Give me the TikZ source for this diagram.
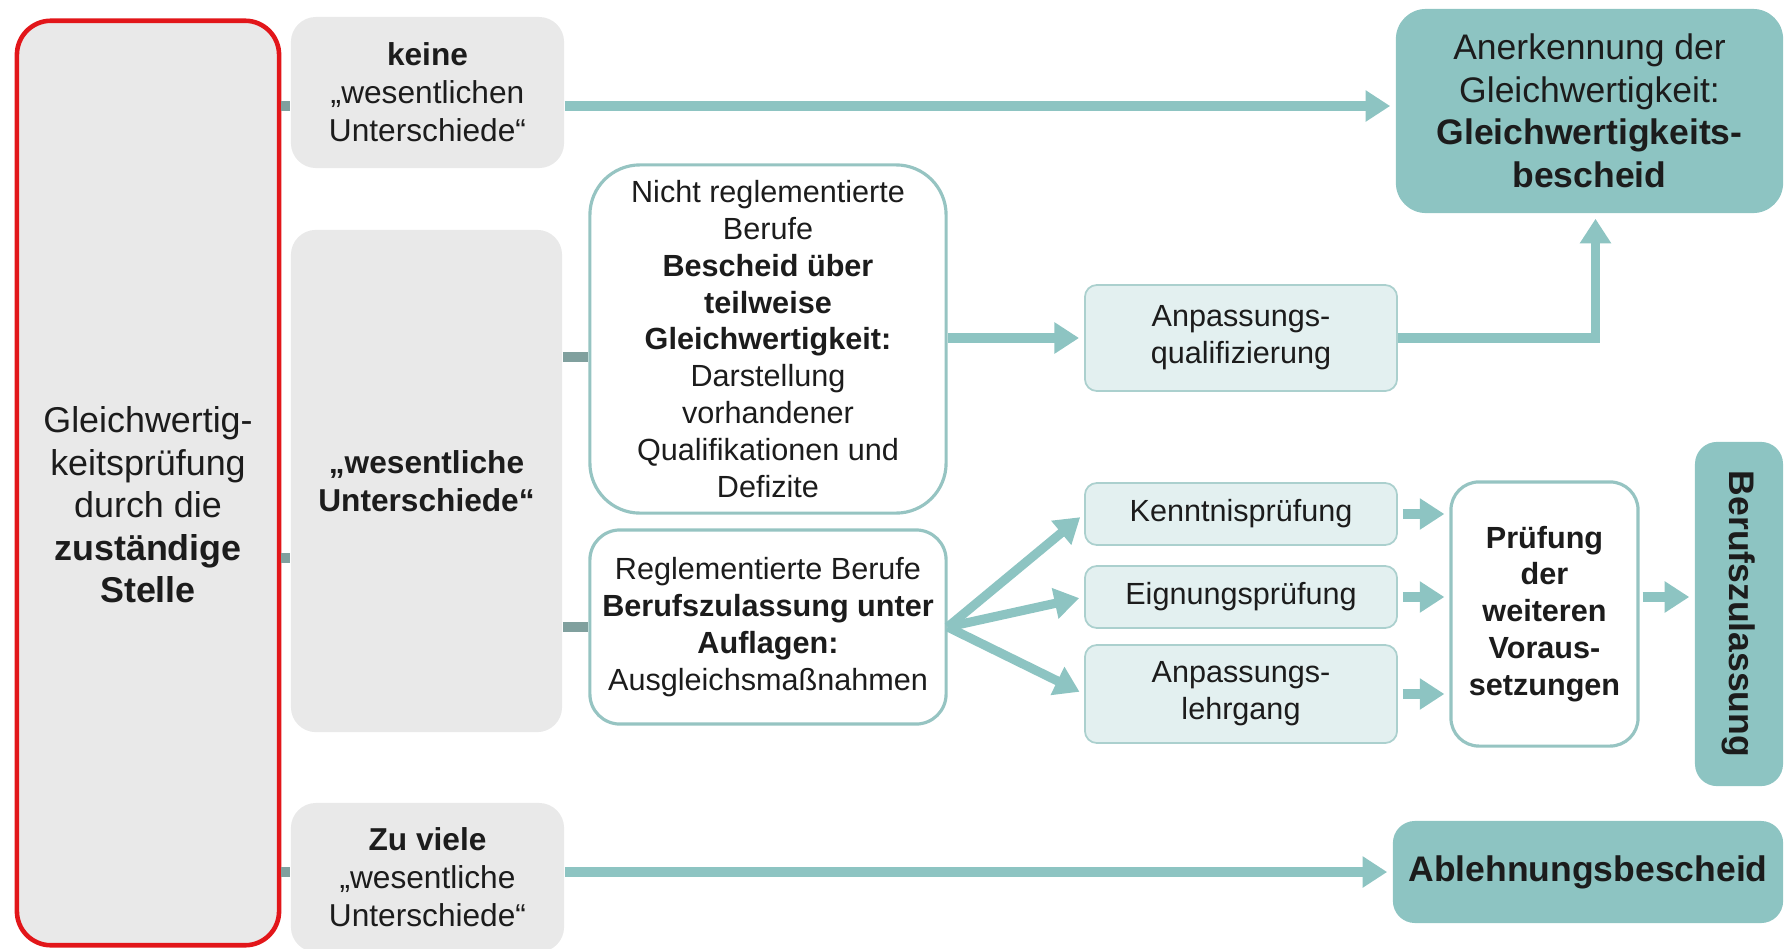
\documentclass[tikz,border=0pt]{standalone}
\usepackage{fontspec}
\setmainfont{Liberation Sans}
\usetikzlibrary{arrows.meta,positioning}
\definecolor{gsred}{RGB}{226,22,26}
\definecolor{gsgray}{RGB}{233,233,233}
\definecolor{gsteal}{RGB}{141,196,194}
\definecolor{gslight}{RGB}{227,240,240}
\definecolor{gsrim}{RGB}{150,196,194}
\definecolor{gsstub}{RGB}{128,160,158}
\definecolor{gstext}{RGB}{28,28,28}
\tikzset{
  base/.style={align=center, text=gstext, inner sep=0pt},
  greybox/.style={base, fill=gsgray, rounded corners=0.25cm, font=\fontsize{9}{10.8}\selectfont},
  whitebox/.style={base, fill=white, draw=gsrim, line width=0.9pt, font=\fontsize{8.7}{10.5}\selectfont},
  lightbox/.style={base, fill=gslight, draw=gsrim!80, line width=0.5pt, rounded corners=0.12cm,
    minimum width=3.12cm, font=\fontsize{8.7}{10.5}\selectfont},
  resultbox/.style={base, fill=gsteal, rounded corners=0.3cm, font=\fontsize{10.1}{12.1}\selectfont},
  flow/.style={draw=gsteal, line width=2.6pt, -{Triangle[length=7pt,width=8.5pt]}, shorten >=0.05cm},
  stub/.style={draw=gsstub, line width=2.7pt},
}
\begin{document}
\begin{tikzpicture}[x=0.01cm, y=-0.01cm]
\useasboundingbox (0,0) rectangle (1787,948);
% left column
\node[base, draw=gsred, fill=gsgray, line width=1.3pt, rounded corners=0.34cm,
  minimum width=2.62cm, minimum height=9.24cm] (pruef) at (148,483) {};
\node[base, font=\fontsize{10.2}{12.1}\selectfont] (pruefText) at (148,505)
  {Gleichwertig-\\keitsprüfung\\durch die\\\textbf{zuständige}\\\textbf{Stelle}};
% grey boxes
\node[greybox, minimum width=2.73cm, minimum height=1.51cm] (keine) at (427.5,92.5)
  {\textbf{keine}\\„wesentlichen\\Unterschiede“};
\node[greybox, minimum width=2.71cm, minimum height=5.02cm] (wes) at (426.5,481)
  {\textbf{„wesentliche}\\\textbf{Unterschiede“}};
\node[greybox, minimum width=2.73cm, minimum height=1.49cm] (viele) at (427.5,877.5)
  {\textbf{Zu viele}\\„wesentliche\\Unterschiede“};
% middle column
\node[whitebox, rounded corners=0.5cm, minimum width=3.56cm, minimum height=3.48cm] (nicht) at (768,339)
  {Nicht reglementierte\\Berufe\\\textbf{Bescheid über}\\\textbf{teilweise}\\\textbf{Gleichwertigkeit:}\\Darstellung\\vorhandener\\Qualifikationen und\\Defizite};
\node[whitebox, rounded corners=0.3cm, minimum width=3.56cm, minimum height=1.94cm] (regl) at (768,627)
  {Reglementierte Berufe\\\textbf{Berufszulassung unter}\\\textbf{Auflagen:}\\Ausgleichsmaßnahmen};
% measures
\node[lightbox, minimum height=1.06cm] (anpq) at (1241,338) {Anpassungs-\\qualifizierung};
\node[lightbox, minimum height=0.62cm] (kennt) at (1241,514) {Kenntnisprüfung};
\node[lightbox, minimum height=0.62cm] (eign) at (1241,597) {Eignungsprüfung};
\node[lightbox, minimum height=0.98cm] (anpl) at (1241,694) {Anpassungs-\\lehrgang};
\node[whitebox, rounded corners=0.28cm, font=\fontsize{8.7}{10.5}\selectfont\bfseries,
  minimum width=1.87cm, minimum height=2.64cm] (prfg) at (1544.5,614)
  {Prüfung\\der\\weiteren\\Voraus-\\setzungen};
% results
\node[resultbox, minimum width=3.87cm, minimum height=2.04cm] (anerk) at (1589.5,111)
  {Anerkennung der\\Gleichwertigkeit:\\\textbf{Gleichwertigkeits-}\\\textbf{bescheid}};
\node[resultbox, rotate=-90, rounded corners=0.22cm, font=\fontsize{10.1}{12.1}\selectfont\bfseries,
  minimum width=3.44cm, minimum height=0.88cm] (beruf) at (1739,614) {Berufszulassung};
\node[resultbox, rounded corners=0.22cm, font=\fontsize{10.1}{12.1}\selectfont\bfseries,
  minimum width=3.90cm, minimum height=1.02cm] (ableh) at (1588,872) {Ablehnungsbescheid};
% levels of the connectors
\coordinate (lvlTop) at (0,106);
\coordinate (lvlWes) at (0,558);
\coordinate (lvlNicht) at (0,357);
% stubs
\draw[stub] (pruef.east |- lvlTop) -- (keine.west |- lvlTop);
\draw[stub] (pruef.east |- lvlWes) -- (wes.west |- lvlWes);
\draw[stub] (pruef.east |- ableh) -- (viele.west |- ableh);
\draw[stub] (wes.east |- lvlNicht) -- (nicht.west |- lvlNicht);
\draw[stub] (wes.east |- regl) -- (regl.west);
% arrows
\draw[flow] (keine.east |- lvlTop) -- (anerk.west |- lvlTop);
\draw[flow] (viele.east |- ableh) -- (ableh.west);
\draw[flow] (nicht.east |- anpq) -- (anpq.west);
\draw[flow] (anpq.east) -| ([xshift=0.06cm]anerk.south);
\foreach \t in {kennt,eign,anpl}
  \draw[flow] (regl.east) -- (\t.west);
\foreach \t in {kennt,eign,anpl}
  \draw[flow, shorten <=0.05cm] (\t.east) -- (prfg.west |- \t.east);
\draw[flow, shorten <=0.03cm] (prfg.east |- eign) -- (beruf.south |- eign);
\end{tikzpicture}
\end{document}
